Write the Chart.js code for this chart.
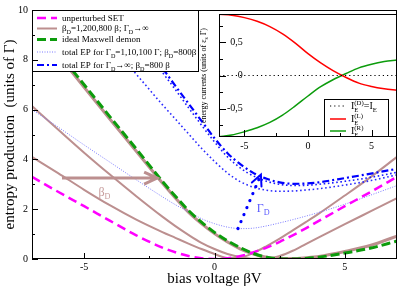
<!DOCTYPE html>
<html>
<head>
<meta charset="utf-8">
<script src="https://cdn.jsdelivr.net/npm/chart.js@4.4.0/dist/chart.umd.min.js"></script>
<style>
html, body { margin: 0; padding: 0; background: #fff; }
#wrap { position: relative; width: 399px; height: 290px; }
#main { position: absolute; left: 0; top: 0; }
#inset { position: absolute; left: 199px; top: 0; }
</style>
</head>
<body>
<div id="wrap">
    <canvas id="main" width="399" height="290"></canvas>
    <canvas id="inset" width="200" height="155"></canvas>
</div>
<script>
const FONT = "'Liberation Serif', 'Times New Roman', serif";

// main panel: entropy production vs bias voltage
const biasV      = [-7, -6, -5, -4, -3, -2, -1.5, -1, -0.5, 0, 0.5, 1, 1.5, 2, 2.5, 3, 3.5, 4, 5, 6, 7];
const epSET      = [3.3, 2.7, 2.12, 1.53, 0.95, 0.46, 0.27, 0.12, 0.03, 0, 0.03, 0.12, 0.27, 0.46, 0.69, 0.95, 1.23, 1.53, 2.12, 2.7, 3.3];
const epBeta1    = [4.1, 3.45, 2.78, 2.15, 1.58, 1.08, 0.85, 0.62, 0.4, 0.2, 0.04, 0.06, 0.25, 0.52, 0.82, 1.15, 1.48, 1.82, 2.55, 3.3, 4.1];
const epBeta200  = [6.14, 5.2, 4.27, 3.38, 2.52, 1.7, 1.32, 0.97, 0.65, 0.4, 0.2, 0.07, 0.01, 0.01, 0.12, 0.33, 0.6, 0.87, 1.4, 1.92, 2.44];
const epBeta800  = [9.5, 8.2, 6.9, 5.6, 4.33, 3.05, 2.45, 1.88, 1.42, 1.02, 0.68, 0.4, 0.2, 0.07, 0.02, 0.02, 0.05, 0.1, 0.3, 0.55, 0.92];
const epDemon    = [9.6, 8.3, 7.0, 5.7, 4.42, 3.12, 2.52, 1.95, 1.48, 1.07, 0.73, 0.45, 0.22, 0.07, 0.01, 0, 0.02, 0.07, 0.24, 0.44, 0.72];
const epGamma1   = [6.0, 5.3, 4.58, 3.88, 3.18, 2.5, 2.18, 1.9, 1.62, 1.42, 1.28, 1.22, 1.24, 1.33, 1.45, 1.58, 1.72, 1.87, 2.2, 2.57, 2.95];
const epGamma10  = [12.2, 11.0, 9.82, 8.62, 7.42, 6.2, 5.62, 5.03, 4.45, 3.92, 3.45, 3.1, 2.88, 2.76, 2.72, 2.73, 2.77, 2.82, 2.97, 3.15, 3.38];
const epGamma100 = [14.7, 13.3, 11.85, 10.4, 8.95, 7.5, 6.8, 6.08, 5.38, 4.7, 4.1, 3.65, 3.33, 3.12, 3.0, 2.95, 2.96, 3.0, 3.12, 3.28, 3.48];
const epGammaInf = [15.0, 13.55, 12.1, 10.62, 9.15, 7.68, 6.95, 6.25, 5.55, 4.85, 4.25, 3.8, 3.45, 3.22, 3.08, 3.02, 3.03, 3.08, 3.25, 3.43, 3.62];

// inset: energy currents
const insetV     = [-7, -6, -5, -4, -3, -2, -1, 0, 1, 2, 3, 4, 5, 6, 7];
const currentD   = [0, 0, 0, 0, 0, 0, 0, 0, 0, 0, 0, 0, 0, 0, 0];
const currentL   = [0.925, 0.91, 0.875, 0.82, 0.74, 0.63, 0.49, 0.33, 0.19, 0.07, -0.03, -0.115, -0.165, -0.2, -0.225];
const currentR   = [-0.925, -0.9, -0.85, -0.79, -0.71, -0.6, -0.46, -0.31, -0.17, -0.06, 0.03, 0.115, 0.17, 0.21, 0.235];

const BROWN = '#bc8f8f';
const GREEN = '#0c9c0c';

function pts(xs, ys) {
    return xs.map((x, i) => ({ x, y: ys[i] }));
}

// text with sub/superscripts; parts are strings or {sub, sup}
function drawRich(ctx, parts, x, y, size, color, draw = true) {
    ctx.fillStyle = color;
    ctx.textAlign = 'left';
    ctx.textBaseline = 'alphabetic';
    const x0 = x;
    for (const p of parts) {
        if (typeof p === 'string') {
            ctx.font = `${size}px ${FONT}`;
            if (draw) ctx.fillText(p, x, y);
            x += ctx.measureText(p).width;
        } else {
            ctx.font = `${size * 0.68}px ${FONT}`;
            let w = 0;
            if (p.sub) {
                if (draw) ctx.fillText(p.sub, x, y + size * 0.3);
                w = ctx.measureText(p.sub).width;
            }
            if (p.sup) {
                if (draw) ctx.fillText(p.sup, x, y - size * 0.48);
                w = Math.max(w, ctx.measureText(p.sup).width);
            }
            x += w;
        }
    }
    return x - x0;
}

function sampleLine(ctx, ds, x1, x2, y) {
    ctx.save();
    ctx.strokeStyle = ds.borderColor;
    ctx.lineWidth = ds.borderWidth;
    ctx.setLineDash(ds.borderDash || []);
    ctx.beginPath();
    ctx.moveTo(x1, y);
    ctx.lineTo(x2, y);
    ctx.stroke();
    ctx.restore();
}

// frame with inward major/minor ticks (grace style)
const frameTicks = {
    id: 'frameTicks',
    afterDraw(chart, args, o) {
        const { ctx, chartArea: a } = chart;
        const sx = chart.scales.x, sy = chart.scales.y;
        const isMajor = (v, step) => Math.abs(v / step - Math.round(v / step)) < 1e-6;
        ctx.save();
        ctx.strokeStyle = '#000';
        ctx.lineWidth = 1;
        ctx.setLineDash([]);
        ctx.strokeRect(a.left + 0.5, a.top + 0.5, a.width - 1, a.height - 1);
        ctx.beginPath();
        for (let v = Math.ceil(sx.min / o.xMinor) * o.xMinor; v <= sx.max + 1e-9; v += o.xMinor) {
            const px = Math.round(sx.getPixelForValue(v)) + 0.5;
            const len = isMajor(v, o.xMajor) ? o.major : o.minor;
            ctx.moveTo(px, a.bottom);
            ctx.lineTo(px, a.bottom - len);
        }
        for (let v = Math.ceil(sy.min / o.yMinor) * o.yMinor; v <= sy.max + 1e-9; v += o.yMinor) {
            const py = Math.round(sy.getPixelForValue(v)) + 0.5;
            const len = isMajor(v, o.yMajor) ? o.major : o.minor;
            ctx.moveTo(a.left, py);
            ctx.lineTo(a.left + len, py);
        }
        ctx.stroke();
        ctx.restore();
    }
};

// boxed legend drawn over the curves
const boxLegend = {
    id: 'boxLegend',
    afterDatasetsDraw(chart, args, o) {
        const ctx = chart.ctx;
        const a = chart.chartArea;
        const bx = a.left + o.left, by = a.top + o.top;
        ctx.save();
        ctx.fillStyle = '#fff';
        ctx.fillRect(bx, by, o.width, o.height);
        ctx.strokeStyle = '#000';
        ctx.lineWidth = 1;
        ctx.strokeRect(bx + 0.5, by + 0.5, o.width - 1, o.height - 1);
        o.rows.forEach(r => {
            const ds = chart.data.datasets[r.ds];
            sampleLine(ctx, ds, bx + o.lineFrom, bx + o.lineTo, by + r.y);
            drawRich(ctx, r.text, bx + o.textX, by + r.y + o.size * 0.33, o.size, '#000');
        });
        ctx.restore();
    }
};

// arrows and labels of the main panel, anchored in data units
const betaArrow  = { from: [-5.85, 3.25], to: [-2.2, 3.25] };
const betaLabel  = { at: [-4.45, 2.55], text: ['β', { sub: 'D' }] };
const gammaArrow = { from: [0.9, 1.22], to: [1.78, 3.39] };
const gammaLabel = { at: [1.62, 1.9], text: ['Γ', { sub: 'D' }] };

const annotations = {
    id: 'annotations',
    afterDatasetsDraw(chart) {
        const ctx = chart.ctx;
        const sx = chart.scales.x, sy = chart.scales.y;
        const P = p => [sx.getPixelForValue(p[0]), sy.getPixelForValue(p[1])];
        ctx.save();
        // beta_D arrow
        let [x1, y1] = P(betaArrow.from), [x2, y2] = P(betaArrow.to);
        ctx.strokeStyle = BROWN;
        ctx.lineWidth = 3;
        ctx.beginPath();
        ctx.moveTo(x1, y1); ctx.lineTo(x2, y2);
        ctx.moveTo(x2 - 13, y2 - 6); ctx.lineTo(x2, y2); ctx.lineTo(x2 - 13, y2 + 6);
        ctx.stroke();
        let [lx, ly] = P(betaLabel.at);
        drawRich(ctx, betaLabel.text, lx, ly, 12, '#c79c9c');
        // Gamma_D arrow (big dots)
        [x1, y1] = P(gammaArrow.from); [x2, y2] = P(gammaArrow.to);
        const ang = Math.atan2(y2 - y1, x2 - x1);
        ctx.strokeStyle = '#0000ff';
        ctx.lineWidth = 3.2;
        ctx.lineCap = 'round';
        ctx.setLineDash([0.1, 7.5]);
        ctx.beginPath();
        ctx.moveTo(x1, y1); ctx.lineTo(x2, y2);
        ctx.stroke();
        ctx.setLineDash([]);
        ctx.lineWidth = 2;
        ctx.beginPath();
        ctx.moveTo(x2 - 12 * Math.cos(ang - 0.45), y2 - 12 * Math.sin(ang - 0.45));
        ctx.lineTo(x2, y2);
        ctx.lineTo(x2 - 12 * Math.cos(ang + 0.45), y2 - 12 * Math.sin(ang + 0.45));
        ctx.stroke();
        [lx, ly] = P(gammaLabel.at);
        drawRich(ctx, gammaLabel.text, lx, ly, 12, '#5a5aff');
        ctx.restore();
    }
};

function ticksFont(size) {
    return { family: FONT, size };
}

function loadMainChart() {
    const ctx = document.getElementById('main').getContext('2d');
    const datasets = [
        { data: pts(biasV, epDemon), borderColor: GREEN, borderWidth: 3, borderDash: [9, 4] },
        { data: pts(biasV, epSET), borderColor: '#ff00ff', borderWidth: 2.5, borderDash: [9, 5] },
        { data: pts(biasV, epGammaInf), borderColor: '#0000ff', borderWidth: 2.2, borderDash: [7, 3, 2, 3] },
        { data: pts(biasV, epGamma100), borderColor: '#1a1aff', borderWidth: 1.6, borderDash: [1.6, 2.6] },
        { data: pts(biasV, epGamma10), borderColor: '#2a2aff', borderWidth: 1.6, borderDash: [1.6, 2.6] },
        { data: pts(biasV, epGamma1), borderColor: '#7a7aff', borderWidth: 1, borderDash: [1, 1.5] },
        { data: pts(biasV, epBeta800), borderColor: BROWN, borderWidth: 3 },
        { data: pts(biasV, epBeta200), borderColor: BROWN, borderWidth: 2 },
        { data: pts(biasV, epBeta1), borderColor: BROWN, borderWidth: 2 },
    ];
    datasets.forEach(d => { d.pointRadius = 0; d.cubicInterpolationMode = 'monotone'; d.fill = false; });

    new Chart(ctx, {
        type: 'line',
        data: { datasets },
        plugins: [frameTicks, annotations, boxLegend],
        options: {
            responsive: false,
            animation: false,
            layout: { padding: { top: 5, right: 2, left: 0, bottom: 0 } },
            plugins: {
                legend: { display: false },
                tooltip: { enabled: false },
                frameTicks: { xMajor: 5, xMinor: 2.5, yMajor: 2, yMinor: 1, major: 6, minor: 3 },
                boxLegend: {
                    left: 0, top: 0, width: 167, height: 62, size: 9,
                    lineFrom: 5, lineTo: 25, textX: 30,
                    rows: [
                        { ds: 1, y: 8, text: ['unperturbed SET'] },
                        { ds: 8, y: 18.5, text: ['β', { sub: 'D' }, '=1,200,800 β; Γ', { sub: 'D' }, '→∞'] },
                        { ds: 0, y: 29.5, text: ['ideal Maxwell demon'] },
                        { ds: 5, y: 42, text: ['total EP for Γ', { sub: 'D' }, '=1,10,100 Γ; β', { sub: 'D' }, '=800β'] },
                        { ds: 2, y: 55, text: ['total EP for Γ', { sub: 'D' }, '→∞; β', { sub: 'D' }, '=800 β'] },
                    ]
                }
            },
            scales: {
                x: {
                    type: 'linear', min: -7, max: 7,
                    grid: { display: false, drawTicks: false }, border: { display: false },
                    ticks: { stepSize: 5, includeBounds: false, maxRotation: 0, padding: 2, color: '#000', font: ticksFont(10) },
                    title: { display: true, text: 'bias voltage βV', color: '#000', font: ticksFont(15), padding: { top: 0, bottom: 2 } },
                    afterFit(s) { s.height = 31; }
                },
                y: {
                    type: 'linear', min: 0, max: 10,
                    grid: { display: false, drawTicks: false }, border: { display: false },
                    ticks: { stepSize: 2, includeBounds: false, padding: 4, color: '#000', font: ticksFont(10) },
                    title: { display: true, text: 'entropy production  (units of Γ)', color: '#000', font: ticksFont(15), padding: { top: 1, bottom: 0 } },
                    afterFit(s) { s.width = 32; }
                }
            }
        }
    });
}

// inset white plot background, legend helper and its y title
const insetDecor = {
    id: 'insetDecor',
    beforeDraw(chart) {
        const a = chart.chartArea;
        chart.ctx.save();
        chart.ctx.fillStyle = '#fff';
        chart.ctx.fillRect(a.left, a.top, a.width, a.height);
        chart.ctx.restore();
    },
    afterDraw(chart, args, o) {
        const ctx = chart.ctx;
        const a = chart.chartArea;
        ctx.save();
        // rotated y title
        const title = ['energy currents (units of ε', { sub: 's' }, ' Γ)'];
        const w = drawRich(ctx, title, 0, 0, 8, '#000', false);
        ctx.translate(o.titleX, (a.top + a.bottom) / 2);
        ctx.rotate(-Math.PI / 2);
        drawRich(ctx, title, -w / 2, 0, 8, '#000');
        ctx.restore();
    }
};

function loadInsetChart() {
    const ctx = document.getElementById('inset').getContext('2d');
    const datasets = [
        { data: pts(insetV, currentD), borderColor: '#000', borderWidth: 1.2, borderDash: [1.2, 3] },
        { data: pts(insetV, currentL), borderColor: '#ff0000', borderWidth: 1.5 },
        { data: pts(insetV, currentR), borderColor: GREEN, borderWidth: 1.5 },
    ];
    datasets.forEach(d => { d.pointRadius = 0; d.cubicInterpolationMode = 'monotone'; d.fill = false; });

    new Chart(ctx, {
        type: 'line',
        data: { datasets },
        plugins: [insetDecor, frameTicks, boxLegend],
        options: {
            responsive: false,
            animation: false,
            layout: { padding: { top: 5, right: 2, left: 0, bottom: 0 } },
            plugins: {
                legend: { display: false },
                tooltip: { enabled: false },
                insetDecor: { titleX: 7 },
                frameTicks: { xMajor: 5, xMinor: 2.5, yMajor: 0.5, yMinor: 0.25, major: 7, minor: 4 },
                boxLegend: {
                    left: 105, top: 85, width: 65, height: 38, size: 10,
                    lineFrom: 6, lineTo: 22, textX: 27,
                    rows: [
                        { ds: 0, y: 7, text: ['I', { sub: 'E', sup: '(D)' }, '=I', { sub: 'E' }] },
                        { ds: 1, y: 20, text: ['I', { sub: 'E', sup: '(L)' }] },
                        { ds: 2, y: 32, text: ['I', { sub: 'E', sup: '(R)' }] },
                    ]
                }
            },
            scales: {
                x: {
                    type: 'linear', min: -7, max: 7,
                    grid: { display: false, drawTicks: false }, border: { display: false },
                    ticks: { stepSize: 5, includeBounds: false, maxRotation: 0, padding: 3, color: '#000', font: ticksFont(10) },
                    afterFit(s) { s.height = 18; }
                },
                y: {
                    type: 'linear', min: -0.93, max: 0.93,
                    grid: { display: false, drawTicks: false }, border: { display: false },
                    ticks: {
                        stepSize: 0.5, includeBounds: false, mirror: true, crossAlign: 'far', padding: 8,
                        color: '#000', font: ticksFont(10),
                        callback: v => String(v).replace('.', ',')
                    },
                    afterFit(s) { s.width = 20; }
                }
            }
        }
    });
}

loadMainChart();
loadInsetChart();
</script>
</body>
</html>
